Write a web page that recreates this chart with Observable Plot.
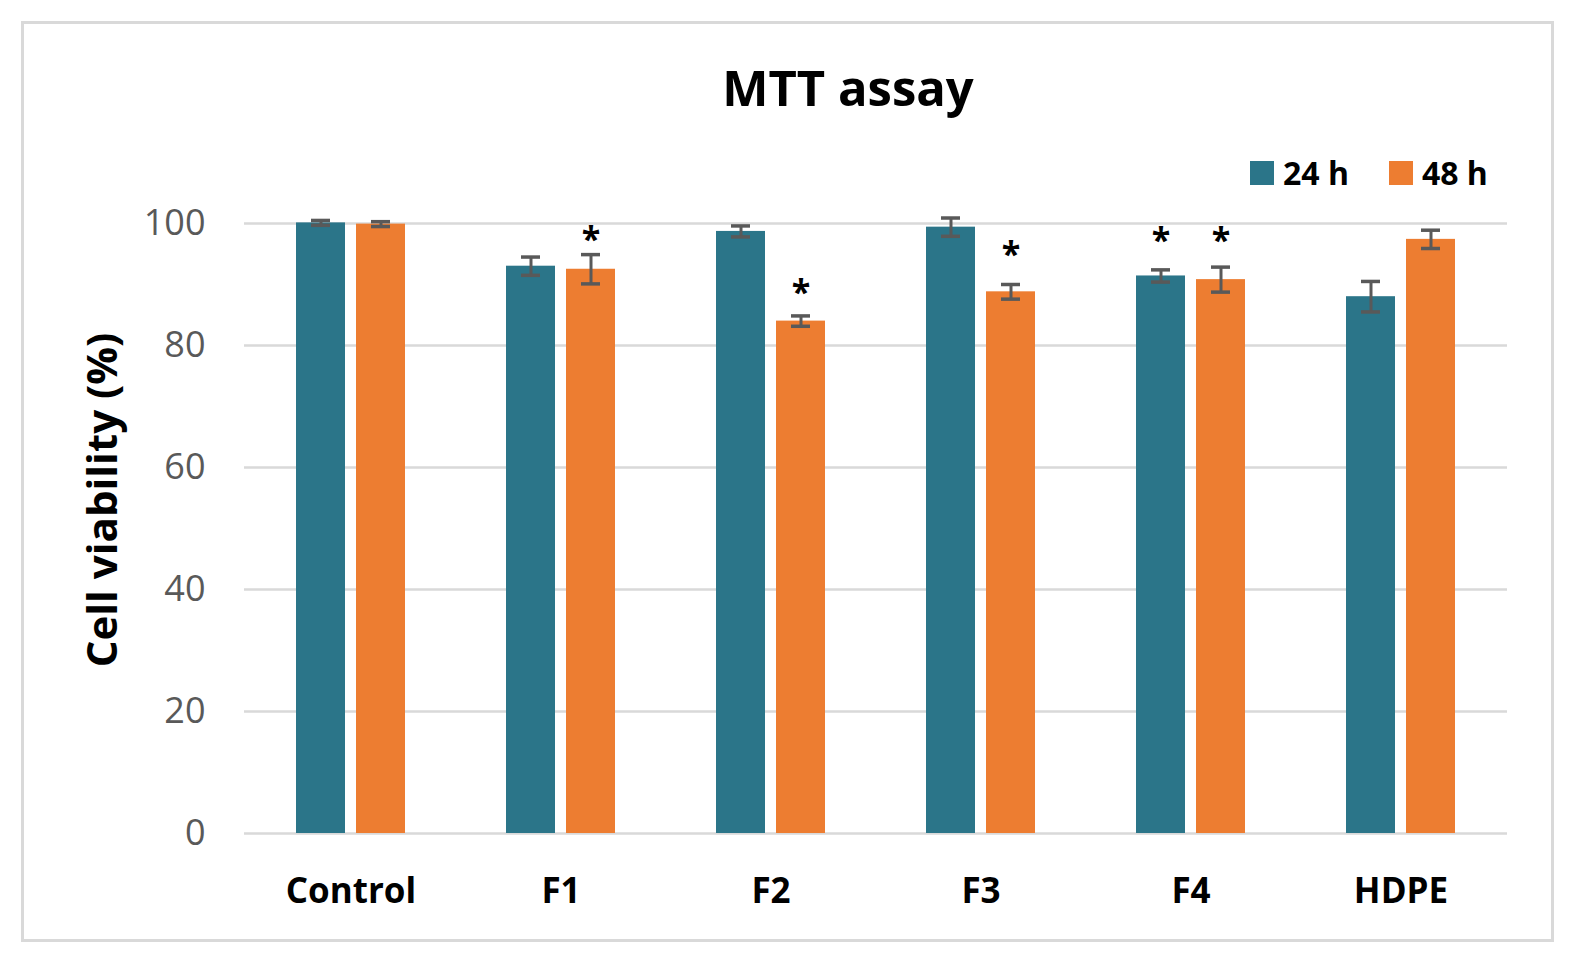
<!DOCTYPE html>
<html>
<head>
<meta charset="utf-8">
<script src="https://cdn.jsdelivr.net/npm/d3@7"></script>
<script src="https://cdn.jsdelivr.net/npm/@observablehq/plot@0.6"></script>
<style>
  html, body { margin: 0; padding: 0; background: #fff; }
  #wrap { position: relative; width: 1577px; height: 963px; font-family: "Open Sans", sans-serif; overflow: hidden; }
  #frame { position: absolute; left: 21px; top: 21px; width: 1533px; height: 921px; box-sizing: border-box; border: 3px solid #d9d9d9; }
  #title { position: absolute; left: 448px; width: 800px; top: 63px; text-align: center; font-size: 49px; line-height: 48px; font-weight: 700; color: #000; }
  #legend { position: absolute; left: 1250px; top: 153px; display: flex; gap: 40px; align-items: center; }
  .item { display: flex; align-items: center; gap: 9px; font-size: 32px; font-weight: 700; line-height: 40px; color: #000; }
  .sw { width: 24px; height: 24px; display: inline-block; }
  #ylabel { position: absolute; left: 100px; top: 500px; transform: translate(-50%, -50%) rotate(-90deg); white-space: nowrap; font-size: 42px; font-weight: 700; color: #000; }
  #chart { position: absolute; left: 0; top: 0; }
  g[aria-label^="y-axis"] text { font-size: 36px !important; fill: #595959 !important; font-weight: 400; }
  g[aria-label^="x-axis"] text { font-size: 35px !important; fill: #000 !important; font-weight: 700 !important; }
</style>
</head>
<body>
<div id="wrap">
  <div id="frame"></div>
  <div id="title">MTT assay</div>
  <div id="legend"></div>
  <div id="ylabel">Cell viability (%)</div>
  <div id="chart"></div>
</div>
<script>
const categories = ["Control", "F1", "F2", "F3", "F4", "HDPE"];
const series = ["24 h", "48 h"];
const colors = ["#2B7589", "#ED7D31"];
const mean24 = [100.1, 93.0, 98.7, 99.4, 91.4, 88.0];
const mean48 = [99.9, 92.5, 84.0, 88.8, 90.8, 97.4];
const err24 = [0.4, 1.5, 0.9, 1.5, 1.0, 2.5];
const err48 = [0.4, 2.4, 0.85, 1.2, 2.05, 1.5];
const star24Y = [null, null, null, null, 98.5, null];
const star48Y = [null, 98.6, 89.9, 96.2, 98.5, null];
const yTicks = [0, 20, 40, 60, 80, 100];

const rows24 = categories.map((c, i) => ({category: c, mean: mean24[i], err: err24[i], star: star24Y[i]}));
const rows48 = categories.map((c, i) => ({category: c, mean: mean48[i], err: err48[i], star: star48Y[i]}));

// legend
const legend = document.getElementById("legend");
series.forEach((s, i) => {
  const it = document.createElement("div");
  it.className = "item";
  it.innerHTML = `<span class="sw" style="background:${colors[i]}"></span><span>${s}</span>`;
  legend.appendChild(it);
});

const errColor = "#595959";
const off = 30;
function seriesMarks(rows, color, side) {
  const dx = side * off;
  return [
    Plot.barY(rows, {x: "category", y: "mean", fill: color,
      insetLeft: side > 0 ? 60 : 0, insetRight: side > 0 ? 0 : 60}),
    Plot.ruleX(rows, {x: "category", y1: d => d.mean - d.err, y2: d => d.mean + d.err, dx, stroke: errColor, strokeWidth: 3}),
    Plot.tickY(rows, {x: "category", y: d => d.mean - d.err, dx, stroke: errColor, strokeWidth: 3.5, insetLeft: 45, insetRight: 45}),
    Plot.tickY(rows, {x: "category", y: d => d.mean + d.err, dx, stroke: errColor, strokeWidth: 3.5, insetLeft: 45, insetRight: 45}),
    Plot.text(rows.filter(d => d.star != null), {x: "category", y: "star", text: () => "*", dx, dy: 8,
      fontSize: 34, fontWeight: 700, fill: "#000"})
  ];
}

const chart = Plot.plot({
  width: 1577,
  height: 963,
  marginTop: 223,
  marginBottom: 130,
  marginLeft: 244,
  marginRight: 70,
  style: {fontFamily: "Open Sans, sans-serif", background: "transparent", overflow: "visible"},
  x: {domain: categories, paddingInner: 0.482, paddingOuter: 0.241, tickSize: 0, tickPadding: 45, label: null},
  y: {domain: [0, 100], ticks: yTicks, tickSize: 0, tickPadding: 39, label: null},
  marks: [
    Plot.ruleY(yTicks, {stroke: "#d9d9d9", strokeWidth: 2.5}),
    ...seriesMarks(rows24, colors[0], -1),
    ...seriesMarks(rows48, colors[1], 1)
  ]
});
document.getElementById("chart").appendChild(chart);
</script>
</body>
</html>
